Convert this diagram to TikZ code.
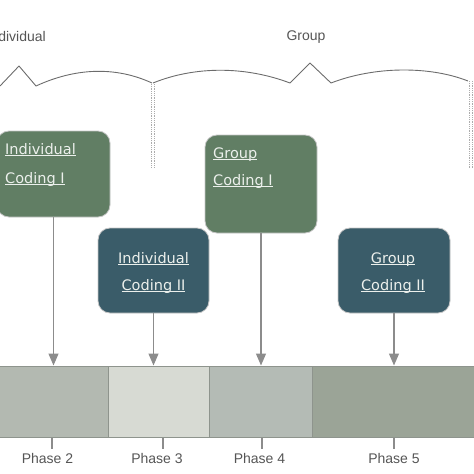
\documentclass[tikz,border=0pt]{standalone}
\usepackage{fontspec}
\setmainfont{Liberation Sans}
\newfontfamily\boxfont{DejaVu Sans}
\usetikzlibrary{arrows.meta,calc}
\definecolor{cgreen}{RGB}{97,126,100}
\definecolor{cblue}{RGB}{58,92,105}
\definecolor{segA}{RGB}{179,185,177}
\definecolor{segB}{RGB}{215,218,211}
\definecolor{segC}{RGB}{180,187,181}
\definecolor{segD}{RGB}{155,164,151}
\definecolor{segline}{RGB}{142,148,141}
\definecolor{txtgray}{RGB}{85,85,85}
\definecolor{arrgray}{RGB}{140,140,140}
\definecolor{boxtxt}{RGB}{236,240,236}
\newcommand\myul[1]{\setbox0\hbox{#1}\rlap{\rule[-1.8pt]{\wd0}{0.9pt}}\box0}
\begin{document}
\begin{tikzpicture}[x=1pt,y=-1pt,
  cbox/.style={draw=gray!45, line width=0.8pt, rounded corners=12pt, inner sep=0pt},
  gbox/.style={cbox, fill=cgreen},
  bbox/.style={cbox, fill=cblue},
  btxt/.style={inner sep=0pt, text=boxtxt, font=\boxfont\fontsize{14.5}{17}\selectfont},
  seg/.style={draw=segline, line width=1pt, inner sep=0pt, minimum height=71pt},
  arr/.style={draw=arrgray, line width=1.2pt, -{Triangle[width=10pt,length=12pt]}},
  ph/.style={text=txtgray, font=\fontsize{14}{16}\selectfont, inner sep=0pt},
  brace/.style={draw=gray!85!black, line width=0.9pt, line join=round},
  dotv/.style={draw=gray!65, line width=0.8pt, dash pattern=on 1pt off 0.8pt},
  tickl/.style={draw=arrgray, line width=1.2pt}]
\useasboundingbox (0,0) rectangle (474,474);
\clip (0,0) rectangle (474,474);
% top labels
\node[ph, anchor=base east] (lind) at (46,41.5) {Individual};
\node[ph, anchor=base] (lgrp) at (306,40) {Group};
% braces
\draw[brace] (0,86) -- (19,66) -- (36,86) .. controls (75,68) and (115,66) .. (152,83);
\draw[brace] (153,83) .. controls (195,66) and (245,66) .. (290,83) -- (310,63) -- (331,83)
  .. controls (375,66) and (430,66) .. (468,81);
\draw[dotv] (151.8,84) -- (151.8,168);
\draw[dotv] (154.4,84) -- (154.4,168);
\draw[dotv] (469.8,81) -- (469.8,168);
\draw[dotv] (472.4,81) -- (472.4,168);
% boxes
\node[gbox, minimum width=113pt, minimum height=86pt] (ic1) at (53.5,174) {};
\node[bbox, minimum width=111pt, minimum height=85pt] (ic2) at (153.5,270.5) {};
\node[gbox, minimum width=112pt, minimum height=98pt] (gc1) at (261,184) {};
\node[bbox, minimum width=112pt, minimum height=85pt] (gc2) at (394,270.5) {};
\node[btxt, anchor=base west] (ic1a) at (5,154) {\myul{Individual}};
\node[btxt, anchor=base west] (ic1b) at (5,183) {\myul{Coding I}};
\node[btxt, anchor=base] (ic2a) at (153.5,263) {\myul{Individual}};
\node[btxt, anchor=base] (ic2b) at (153.5,290) {\myul{Coding II}};
\node[btxt, anchor=base west] (gc1a) at (213,158) {\myul{Group}};
\node[btxt, anchor=base west] (gc1b) at (213,185) {\myul{Coding I}};
\node[btxt, anchor=base] (gc2a) at (393,263) {\myul{Group}};
\node[btxt, anchor=base] (gc2b) at (393,290) {\myul{Coding II}};
% bar segments
\node[seg, fill=segA, minimum width=110pt] (s1) at (53,401.5) {};
\node[seg, fill=segB, minimum width=101pt] (s2) at (158.5,401.5) {};
\node[seg, fill=segC, minimum width=103pt] (s3) at (260.5,401.5) {};
\node[seg, fill=segD, minimum width=166pt] (s4) at (395,401.5) {};
% arrows
\draw[arr] (ic1.south) -- (ic1.south |- s1.north);
\draw[arr] (ic2.south) -- (ic2.south |- s2.north);
\draw[arr] (gc1.south) -- (gc1.south |- s3.north);
\draw[arr] (gc2.south) -- (gc2.south |- s4.north);
% phase labels
\node[ph, anchor=base] (p2) at (47.5,463) {Phase 2};
\node[ph, anchor=base] (p3) at (157,463) {Phase 3};
\node[ph, anchor=base] (p4) at (259.5,463) {Phase 4};
\node[ph, anchor=base] (p5) at (394,463) {Phase 5};
\draw[tickl] ([xshift=4.5pt]p2.north) ++(0,-4) -- ([xshift=4.5pt]p2.north |- s1.south);
\draw[tickl] ([xshift=6pt]p3.north) ++(0,-4) -- ([xshift=6pt]p3.north |- s2.south);
\draw[tickl] ([xshift=2.5pt]p4.north) ++(0,-4) -- ([xshift=2.5pt]p4.north |- s3.south);
\draw[tickl] (p5.north) ++(0,-4) -- (p5.north |- s4.south);
\end{tikzpicture}
\end{document}
